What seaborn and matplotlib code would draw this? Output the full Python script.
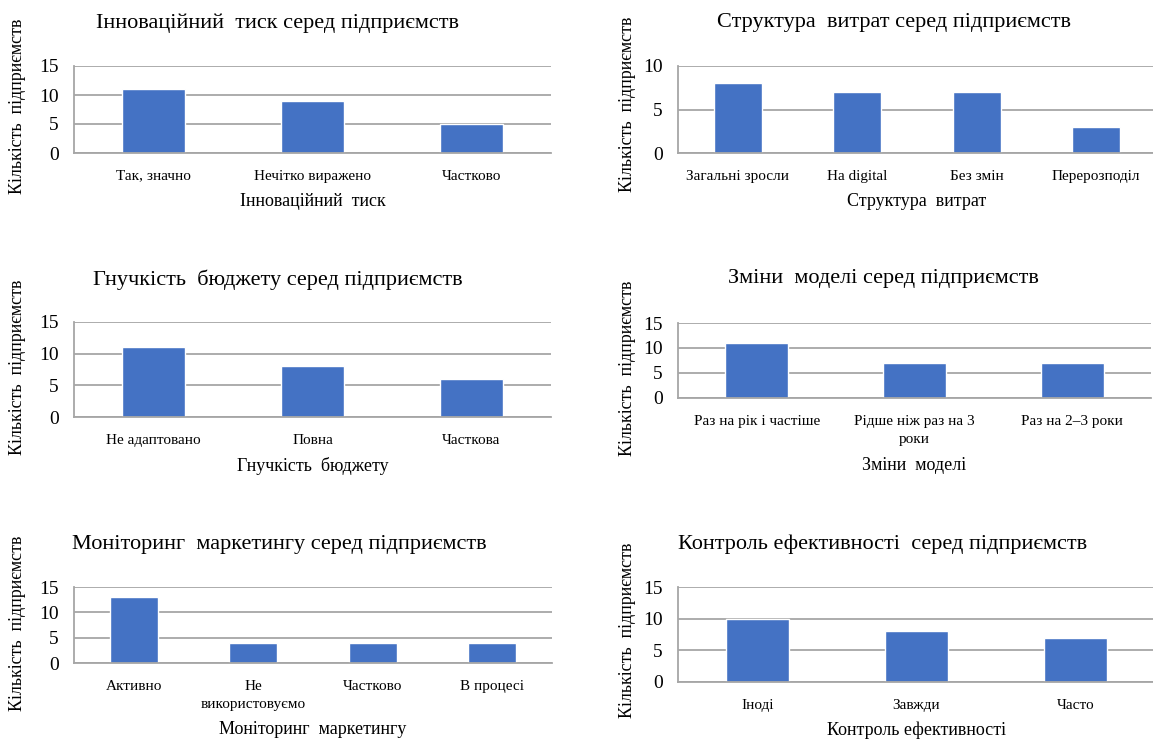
import matplotlib
matplotlib.use("Agg")
import matplotlib.pyplot as plt
import seaborn as sns
import pandas as pd

# data per panel
innov_cats = ["Так, значно", "Нечітко виражено", "Частково"]
innov_vals = [11, 9, 5]

cost_cats = ["Загальні зросли", "На digital", "Без змін", "Перерозподіл"]
cost_vals = [8, 7, 7, 3]

budget_cats = ["Не адаптовано", "Повна", "Часткова"]
budget_vals = [11, 8, 6]

model_cats = ["Раз на рік і частіше", "Рідше ніж раз на 3\nроки", "Раз на 2–3 роки"]
model_vals = [11, 7, 7]

monitor_cats = ["Активно", "Не\nвикористовуємо", "Частково", "В процесі"]
monitor_vals = [13, 4, 4, 4]

control_cats = ["Іноді", "Завжди", "Часто"]
control_vals = [10, 8, 7]

titles = ["Інноваційний  тиск серед підприємств",
          "Структура  витрат серед підприємств",
          "Гнучкість  бюджету серед підприємств",
          "Зміни  моделі серед підприємств",
          "Моніторинг  маркетингу серед підприємств",
          "Контроль ефективності  серед підприємств"]
xlabels = ["Інноваційний  тиск", "Структура  витрат", "Гнучкість  бюджету",
           "Зміни  моделі", "Моніторинг  маркетингу", "Контроль ефективності"]
ylabel = "Кількість  підприємств"

BLUE = "#4472C4"
GREY = "#A6A6A6"
W, H = 1153, 740

sns.set_theme(style="white")
plt.rcParams['font.family'] = ['Liberation Serif', 'DejaVu Serif']
plt.rcParams['text.color'] = 'black'
plt.rcParams['xtick.labelcolor'] = 'black'
plt.rcParams['ytick.labelcolor'] = 'black'

fig = plt.figure(figsize=(W / 100, H / 100), dpi=100)

# pixel layout: (left, right, top, bottom, ymax, title xy, xlabel y, ylabel xy)
layout = [
    (74, 551, 66, 153, 15, (278, 23), 201, (18, 106)),
    (678, 1156, 66, 153, 10, (894, 23), 201, (628, 104)),
    (74, 551, 322, 417, 15, (278, 280), 466, (18, 367)),
    (678, 1151, 323, 398, 15, (883, 279), 466, (628, 368)),
    (74, 552, 587, 663, 15, (279, 544), 730, (18, 623)),
    (678, 1155, 587, 682, 15, (883, 544), 730, (628, 630)),
]
cats = [innov_cats, cost_cats, budget_cats, model_cats, monitor_cats, control_cats]
vals = [innov_vals, cost_vals, budget_vals, model_vals, monitor_vals, control_vals]

for i, (l, r, t, b, ymax, tpos, xly, ylpos) in enumerate(layout):
    ax = fig.add_axes([l / W, 1 - b / H, (r - l) / W, (b - t) / H])
    df = pd.DataFrame({"cat": cats[i], "val": vals[i]})
    sns.barplot(data=df, x="cat", y="val", color=BLUE, width=0.4, saturation=1, ax=ax)
    ax.set_ylim(0, ymax)
    ax.set_yticks(range(0, ymax + 1, 5))
    ax.set_xlim(-0.5, len(cats[i]) - 0.5)
    ax.yaxis.grid(True, color=GREY, linewidth=1.3)
    ax.set_axisbelow(True)
    for s in ["top", "right"]:
        ax.spines[s].set_visible(False)
    for s in ["left", "bottom"]:
        ax.spines[s].set_color(GREY)
        ax.spines[s].set_linewidth(1.3)
    ax.tick_params(axis="y", length=0, pad=11, labelsize=14)
    ax.tick_params(axis="x", length=0, pad=12, labelsize=11)
    for lab in ax.get_xticklabels():
        lab.set_linespacing(1.5)
    ax.set_xlabel("")
    ax.set_ylabel("")

    def fx(px):
        return (px - l) / (r - l)

    def fy(py):
        return (b - py) / (b - t)

    ax.text(fx(tpos[0]), fy(tpos[1]), titles[i], transform=ax.transAxes,
            ha="center", va="center", fontsize=16, clip_on=False)
    ax.text(0.5, fy(xly), xlabels[i], transform=ax.transAxes,
            ha="center", va="center", fontsize=13, clip_on=False)
    ax.text(fx(ylpos[0]), fy(ylpos[1]), ylabel, transform=ax.transAxes, rotation=90,
            ha="center", va="center", fontsize=13, clip_on=False)

fig.savefig("out.png", dpi=100, facecolor="white")
